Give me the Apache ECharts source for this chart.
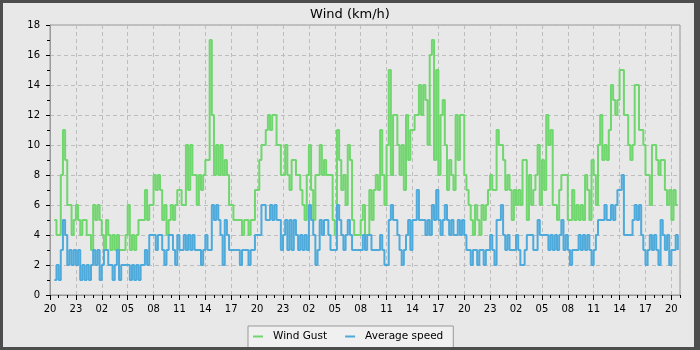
<!DOCTYPE html>
<html>
<head>
<meta charset="utf-8">
<script src="https://cdn.jsdelivr.net/npm/echarts@6/dist/echarts.min.js"></script>
<style>
html,body{margin:0;padding:0;background:#e8e8e8;}
#chart{width:700px;height:350px;}
</style>
</head>
<body>
<div id="chart"></div>
<script>
// hours since 20:00 of the first day; samples every 15 minutes
const startHour = 0.5;
const stepHours = 0.25;
const xTickLabels = ['20','23','02','05','08','11','14','17','20','23','02','05','08','11','14','17','20','23','02','05','08','11','14','17','20'];

const windGust = [
  5,4,
  4,8,11,9,   6,6,4,5,   6,5,4,5,   5,4,4,3,   6,5,6,5,   4,3,5,4,
  3,4,3,4,    3,3,3,4,   6,3,4,3,   4,5,5,5,   7,5,6,6,   8,7,8,7,
  5,6,4,5,    6,5,6,7,   7,6,6,10,  7,10,8,8,  6,8,7,8,   9,9,17,12,
  8,10,8,10,  8,9,8,6,   6,5,5,5,   5,4,5,5,   4,5,5,7,   7,9,10,10,
  11,12,11,12, 12,10,10,8, 8,10,8,7, 9,9,8,8,  7,6,5,8,   10,7,5,8,
  8,10,8,9,   8,8,8,5,   4,11,9,7,  8,6,10,9,  5,4,4,4,   5,6,4,4,
  7,5,7,8,    7,11,8,6,  10,15,8,12, 12,10,8,10, 7,12,9,11, 11,12,12,14,
  12,14,13,10, 16,17,9,15, 8,12,13,10, 7,9,8,7, 12,9,12,12, 8,7,6,5,
  4,6,5,4,    6,5,6,7,   8,7,7,11,  10,10,9,7, 8,7,5,7,   6,7,6,9,
  9,5,8,6,    7,8,10,6,  9,7,12,10, 11,6,6,5,  7,8,8,8,   5,5,7,5,
  6,5,6,5,    8,7,5,9,   8,6,10,12, 9,10,9,11, 14,13,12,13, 15,15,12,12,
  10,9,10,14, 14,11,11,10, 8,8,6,10, 10,9,8,9, 9,7,6,7,   5,7,6,6
];

const averageSpeed = [
  1,2,
  1,3,5,4,   2,3,2,3,   2,3,1,2,   1,2,1,2,   3,2,3,1,   2,3,3,2,
  2,1,2,3,   1,2,2,2,   2,1,2,1,   2,1,2,2,   3,2,4,4,   4,3,4,4,
  3,2,3,4,   4,3,2,4,   3,3,4,3,   4,3,4,3,   3,3,2,3,   4,3,3,6,
  5,6,5,4,   2,5,4,3,   3,3,3,3,   2,3,3,3,   2,3,3,4,   4,4,6,6,
  5,5,6,5,   6,5,5,3,   4,5,3,5,   3,5,4,3,   4,3,4,3,   6,5,4,2,
  3,5,4,5,   5,4,3,3,   3,6,5,4,   3,4,5,4,   3,3,3,3,   3,4,3,4,
  4,3,3,3,   3,4,3,2,   2,5,6,5,   5,4,3,2,   3,4,5,3,   5,5,7,5,
  5,5,4,5,   4,6,5,7,   5,4,5,6,   5,4,5,4,   4,5,4,5,   4,3,3,2,
  3,3,2,3,   3,2,3,3,   4,3,2,5,   5,6,4,3,   4,3,3,3,   4,3,2,2,
  3,4,4,4,   3,3,5,4,   4,4,4,3,   4,3,4,3,   4,5,3,4,   3,2,3,3,
  3,4,3,4,   3,4,3,2,   3,4,5,5,   5,6,5,5,   6,5,6,7,   7,8,4,4,
  4,4,5,6,   5,6,4,3,   2,3,4,3,   4,3,2,5,   4,3,4,2,   3,3,4,3
];

const toPoints = arr => arr.map((v, i) => [startHour + i * stepHours, v]);

const FONT = 'DejaVu Sans';
const chart = echarts.init(document.getElementById('chart'), null, {renderer: 'canvas'});
chart.setOption({
  animation: false,
  backgroundColor: '#e8e8e8',
  title: {
    text: 'Wind (km/h)',
    left: 'center',
    top: 3,
    textStyle: {fontFamily: FONT, fontSize: 13, fontWeight: 'normal', color: '#000'}
  },
  legend: {
    left: 248,
    top: 326,
    padding: [5, 10, 6, 5],
    itemWidth: 10,
    itemHeight: 2,
    itemGap: 18,
    icon: 'rect',
    backgroundColor: '#f0f0f0',
    borderColor: '#999',
    borderWidth: 1,
    borderRadius: 0,
    textStyle: {fontFamily: FONT, fontSize: 10.5, color: '#000', padding: [0, 0, 0, 5]},
    data: ['Wind Gust', 'Average speed']
  },
  grid: {
    left: 50, right: 20, top: 25, bottom: 55,
    show: true, borderColor: '#999', borderWidth: 1, backgroundColor: 'transparent'
  },
  xAxis: [{
    type: 'value',
    min: 0, max: 73, interval: 3,
    axisLine: {lineStyle: {color: '#999'}},
    axisTick: {show: true, length: 5, lineStyle: {color: '#000'}},
    axisLabel: {
      fontFamily: FONT, fontSize: 10, color: '#000', margin: 9,
      showMaxLabel: false,
      formatter: v => (v % 3 === 0 && xTickLabels[v / 3] !== undefined) ? xTickLabels[v / 3] : ''
    },
    splitLine: {show: true, lineStyle: {color: '#bdbdbd', type: [4, 3], width: 1}}
  }, {
    type: 'value',
    position: 'bottom',
    min: 0, max: 73, interval: 1,
    axisLine: {show: false},
    axisTick: {show: true, length: 3, lineStyle: {color: '#000'}},
    axisLabel: {show: false},
    splitLine: {show: false}
  }],
  yAxis: {
    type: 'value',
    min: 0, max: 18, interval: 2,
    axisLine: {show: true, lineStyle: {color: '#999'}},
    axisTick: {show: true, length: 4, lineStyle: {color: '#000'}},
    minorTick: {show: true, splitNumber: 2, length: 3, lineStyle: {color: '#000'}},
    axisLabel: {fontFamily: FONT, fontSize: 10, color: '#000', margin: 10},
    splitLine: {show: true, lineStyle: {color: '#bdbdbd', type: [4, 3], width: 1}}
  },
  series: [{
    name: 'Wind Gust',
    type: 'line',
    step: 'end',
    xAxisIndex: 0,
    showSymbol: false,
    symbol: 'none',
    color: '#70d66e',
    lineStyle: {width: 2, color: '#70d66e'},
    data: toPoints(windGust)
  }, {
    name: 'Average speed',
    type: 'line',
    step: 'end',
    xAxisIndex: 0,
    showSymbol: false,
    symbol: 'none',
    color: '#4eaadb',
    lineStyle: {width: 2, color: '#4eaadb'},
    data: toPoints(averageSpeed)
  }],
  graphic: [
    {type: 'rect', z: 100, shape: {x: 0, y: 0, width: 700, height: 3}, style: {fill: '#4d4d4d'}},
    {type: 'rect', z: 100, shape: {x: 0, y: 347, width: 700, height: 3}, style: {fill: '#4d4d4d'}},
    {type: 'rect', z: 100, shape: {x: 0, y: 0, width: 3, height: 350}, style: {fill: '#4d4d4d'}},
    {type: 'rect', z: 100, shape: {x: 694, y: 0, width: 6, height: 350}, style: {fill: '#4d4d4d'}}
  ]
});
</script>
</body>
</html>
